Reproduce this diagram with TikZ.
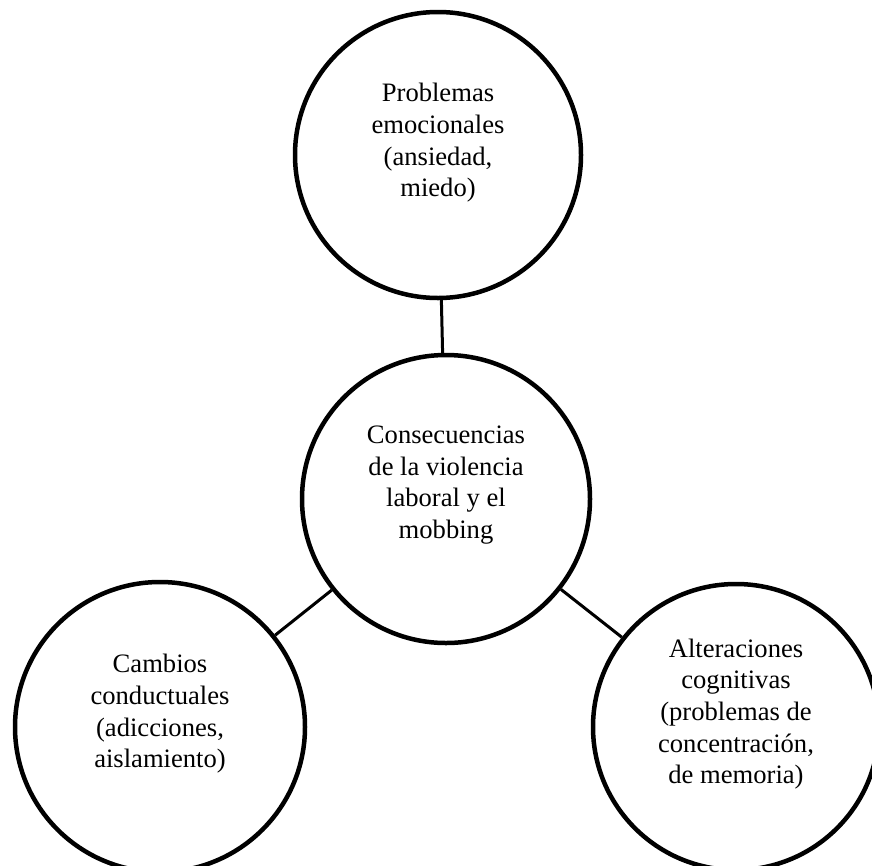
\documentclass[tikz,border=0pt]{standalone}
\usepackage{fontspec}
\setmainfont{Liberation Serif}
\begin{document}
\begin{tikzpicture}[x=1pt,y=-1pt,
  bubble/.style={draw=black, line width=4.5pt, circle, inner sep=0pt},
  caption/.style={align=center, inner sep=0pt,
    font=\fontsize{26.6}{31.7}\selectfont},
  link/.style={draw=black, line width=3pt}]
\useasboundingbox (0,0) rectangle (872,865);

% circles
\node[bubble, minimum size=286pt] (top) at (438,155) {};
\node[bubble, minimum size=288pt] (mid) at (446,499) {};
\node[bubble, minimum size=290pt] (left) at (160,727) {};
\node[bubble, minimum size=286pt] (right) at (736,727) {};

% labels
\node[caption] (topT) at (438,143) {Problemas\\emocionales\\(ansiedad,\\miedo)};
\node[caption] (midT) at (446,485) {Consecuencias\\de la violencia\\laboral y el\\mobbing};
\node[caption] (leftT) at (160,714) {Cambios\\conductuales\\(adicciones,\\aislamiento)};
\node[caption] (rightT) at (736,714) {Alteraciones\\cognitivas\\(problemas de\\concentración,\\de memoria)};

% connectors
\draw[link] (top) -- (mid);
\draw[link] (mid) -- (left);
\draw[link] (mid) -- (right);
\end{tikzpicture}
\end{document}
